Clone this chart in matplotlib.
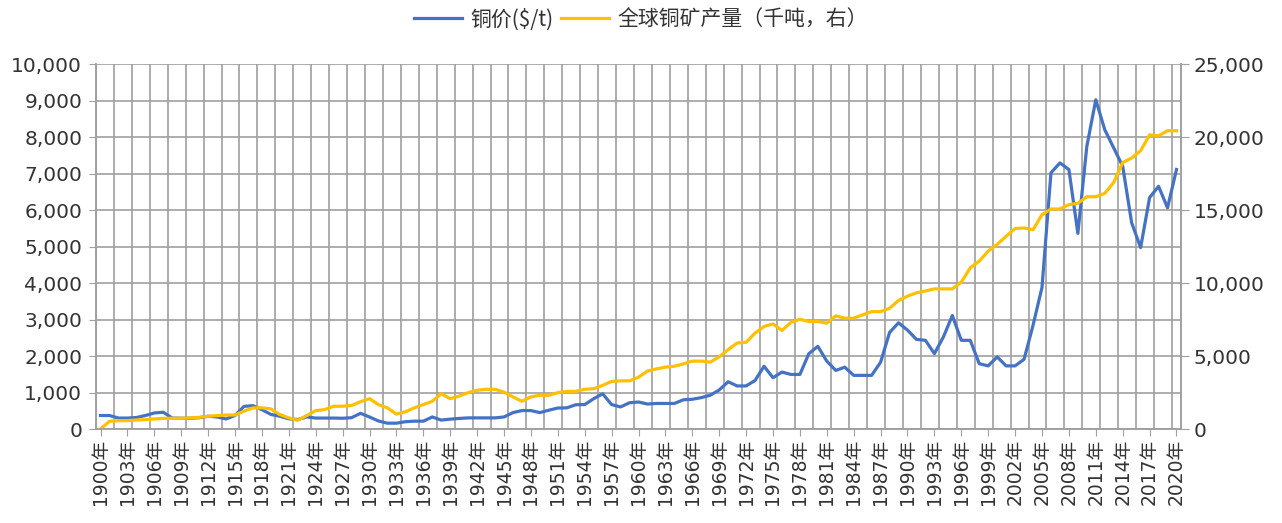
import numpy as np
import matplotlib.pyplot as plt
from matplotlib.ticker import FuncFormatter

plt.rcParams['font.family'] = ['DejaVu Sans', 'Noto Sans CJK SC']

# 年份
years = np.arange(1900, 2021)

# 铜价 ($/t)，左轴
price = [
    370, 370, 300, 300, 315, 370, 440, 460, 300, 295,
    295, 310, 350, 330, 275, 370, 620, 640, 530, 400,
    350, 280, 260, 330, 300, 300, 300, 295, 310, 430,
    330, 220, 160, 160, 200, 215, 215, 330, 245, 270,
    290, 305, 305, 305, 305, 330, 450, 505, 505, 450,
    515, 575, 580, 665, 670, 830, 965, 670, 605, 720,
    740, 685, 700, 700, 700, 800, 815, 860, 925, 1070,
    1295, 1180, 1180, 1330, 1720, 1405, 1560, 1495, 1495, 2065,
    2265, 1860, 1605, 1695, 1470, 1470, 1470, 1830, 2645, 2910,
    2710, 2455, 2430, 2065, 2520, 3110, 2430, 2430, 1790, 1730,
    1975, 1730, 1730, 1910, 2840, 3880, 7020, 7290, 7110, 5360,
    7745, 9020, 8200, 7700, 7200, 5650, 4970, 6340, 6650, 6060,
    7110,
]

# 全球铜矿产量（千吨），右轴
output = [
    0, 530, 570, 575, 620, 640, 690, 730, 735, 735,
    760, 800, 870, 920, 960, 960, 1220, 1450, 1450, 1380,
    990, 760, 600, 920, 1260, 1330, 1560, 1560, 1610, 1870,
    2080, 1670, 1450, 1020, 1180, 1450, 1670, 1900, 2420, 2080,
    2260, 2490, 2650, 2720, 2720, 2530, 2200, 1900, 2200, 2310,
    2310, 2490, 2580, 2580, 2720, 2760, 2990, 3260, 3300, 3300,
    3550, 3970, 4120, 4240, 4300, 4460, 4650, 4650, 4580, 4940,
    5440, 5890, 5940, 6570, 7020, 7200, 6750, 7300, 7520, 7360,
    7360, 7250, 7750, 7590, 7590, 7820, 8040, 8040, 8270, 8800,
    9100, 9330, 9450, 9600, 9600, 9600, 10060, 11040, 11500, 12180,
    12640, 13200, 13730, 13770, 13650, 14680, 15070, 15070, 15370, 15460,
    15910, 15910, 16140, 16890, 18260, 18560, 19060, 20150, 20080, 20430,
    20430,
]

label_years = years[::3]
x_labels = [f'{y}年' for y in label_years]

grey = '#a0a0a0'
txt = '#333333'

fig = plt.figure(figsize=(12.82, 5.23), dpi=100)
ax = fig.add_axes([0.0749, 0.1797, 0.8463, 0.6979])
ax2 = ax.twinx()

l1, = ax.plot(years, price, color='#4472C4', linewidth=2.3, label='铜价($/t)')
l2, = ax2.plot(years, output, color='#FFC000', linewidth=2.3, label='全球铜矿产量（千吨，右）')

ax.set_xlim(1899.5, 2020.5)
ax.set_ylim(0, 10000)
ax2.set_ylim(0, 25000)
ax.set_yticks(np.arange(0, 10001, 1000))
ax2.set_yticks(np.arange(0, 25001, 5000))
fmt = FuncFormatter(lambda v, p: f'{int(v):,}')
ax.yaxis.set_major_formatter(fmt)
ax2.yaxis.set_major_formatter(fmt)

ax.set_xticks(label_years)
ax.set_xticklabels(x_labels, rotation=90, fontsize=13.5, color=txt,
                   family=['DejaVu Sans', 'Noto Sans CJK SC'])

# 网格线：纵向每两年一条
ax.set_xticks(np.arange(1899.5, 2020, 2), minor=True)
ax.grid(which='minor', axis='x', color=grey, linewidth=1.2)
ax.grid(which='major', axis='y', color=grey, linewidth=1.2)
ax.set_axisbelow(True)

for a in (ax, ax2):
    for s in a.spines.values():
        s.set_color(grey)
        s.set_linewidth(1.2)
    a.spines['top'].set_visible(False)
ax.tick_params(axis='x', which='minor', length=0)
ax.tick_params(axis='x', which='major', length=5, color=grey, pad=2)
ax.tick_params(axis='y', length=5, color=grey, labelsize=14.5, pad=5, labelcolor=txt)
ax2.tick_params(axis='y', length=6, color=grey, labelsize=14.5, pad=3, labelcolor=txt)

fig.legend(handles=[l1, l2], loc='upper center', bbox_to_anchor=(0.5, 1.02), ncol=2,
           frameon=False, handlelength=2.3, columnspacing=0.4, handletextpad=0.4,
           labelcolor=txt,
           prop={'family': ['Noto Sans CJK SC', 'DejaVu Sans'], 'size': 15})

fig.savefig('out.png', dpi=100)
